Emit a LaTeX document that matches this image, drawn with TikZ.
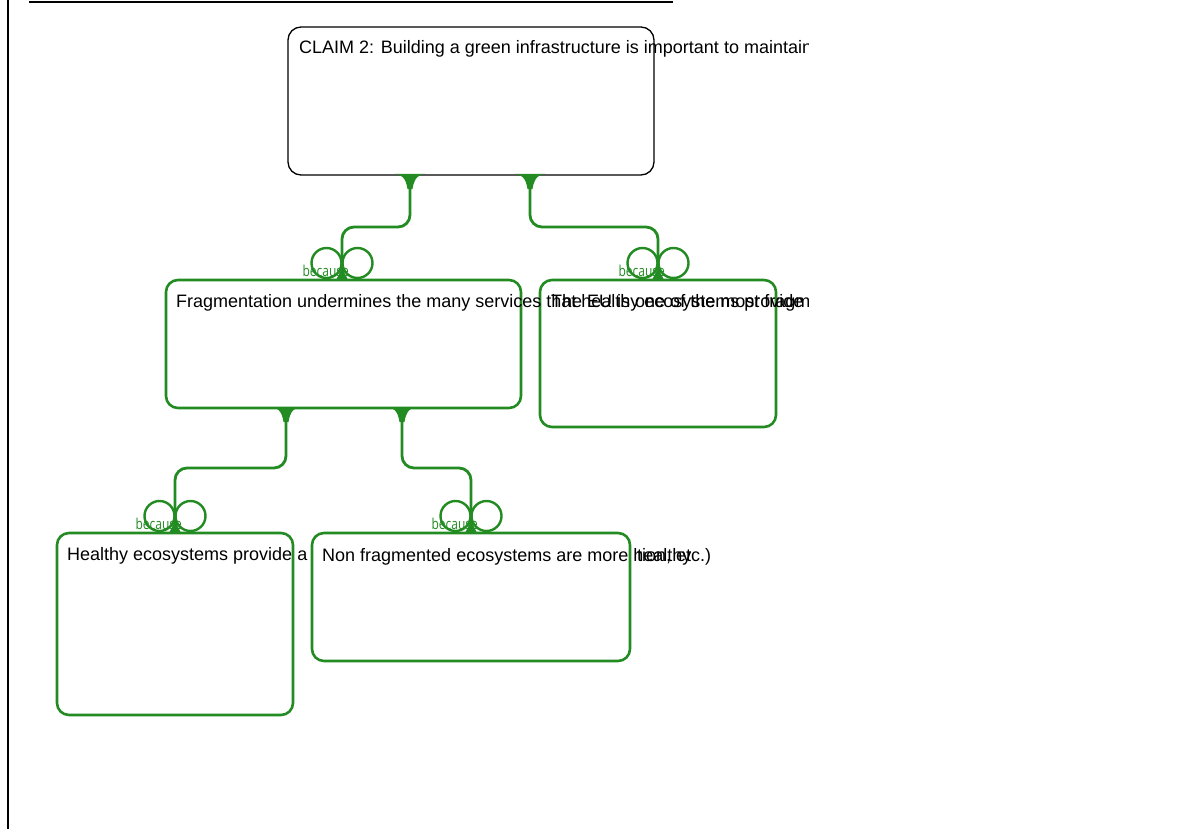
\documentclass[tikz,border=0pt]{standalone}
\usepackage{fontspec}
\setmainfont{Liberation Sans}
\newfontfamily\tagfont{Open Sans}
\usetikzlibrary{calc}
\definecolor{argue}{RGB}{34,139,34}

\tikzset{
  box/.style={anchor=north west, inner sep=0pt, outer sep=0pt, fill=white,
    rounded corners=12pt},
  claimbox/.style={box, draw=black, line width=1.3pt, rounded corners=13pt},
  reasonbox/.style={box, draw=argue, line width=2.6pt},
  txt/.style={anchor=base west, inner sep=0pt, text=black,
    font=\fontsize{18}{22}\selectfont},
  link/.style={draw=argue, line width=2.8pt, rounded corners=12pt},
  pics/flare/.style={code={
    \fill[argue] (-15,-1) .. controls (-9,-1) and (-4,3) .. (-2.5,14)
      -- (2.5,14) .. controls (4,3) and (9,-1) .. (15,-1) -- cycle;
  }},
  pics/because/.style={code={
    \draw[argue, line width=2.4pt] (-15.5,-17) circle[radius=15pt];
    \draw[argue, line width=2.4pt] (15.5,-17) circle[radius=15pt];
    \fill[argue] (-6,0) -- (0,-12) -- (6,0) -- cycle;
    \node[anchor=base east, inner sep=0pt, text=argue,
      font=\tagfont\fontsize{15}{17}\selectfont, xscale=0.8] at (7,-4) {because};
  }},
}

\begin{document}
\begin{tikzpicture}[x=1pt, y=-1pt]
\useasboundingbox (0,0) rectangle (1198,829);
\clip (0,-5) rectangle (808,829);

% page frame fragments
\draw[line width=1.5pt] (8,-5) -- (8,829);
\draw[line width=1.8pt] (29,2) -- (673,2);

% claim
\node[claimbox, minimum width=366pt, minimum height=148pt] (claim) at (288,27) {};
\node[txt] (claimtext) at (299,54) {CLAIM 2: Building a green infrastructure is important to maintain};

% first level of reasons
\node[reasonbox, minimum width=236pt, minimum height=147pt] (eu) at (540,280) {};
\node[reasonbox, minimum width=355pt, minimum height=128pt] (frag) at (166,280) {};
\node[txt] (eutext) at (551,307) {The EU is one of the most fragmented};
\node[txt] (fragtext) at (176,307) {Fragmentation undermines the many services that healthy ecosystems provide};

% second level of reasons
\node[reasonbox, minimum width=236pt, minimum height=182pt] (health) at (57,533) {};
\node[txt] (healthtext) at (67,560) {Healthy ecosystems provide a};
\node[reasonbox, minimum width=318pt, minimum height=128pt] (nonfrag) at (312,533) {};
\node[txt] (nonfragtext) at (322,561) {Non fragmented ecosystems are more healthy};
\node[txt] (healthtail) at (637,561) {tion, etc.)};

% connectors
\draw[link] ($(claim.south west)+(122,0)$) |- ($(frag.north west)+(176,-53)$)
  -- ($(frag.north west)+(176,-2)$);
\draw[link] ($(claim.south west)+(242,0)$) |- ($(eu.north west)+(118,-53)$)
  -- ($(eu.north west)+(118,-2)$);
\draw[link] ($(frag.south west)+(120,0)$) |- ($(health.north west)+(118,-65)$)
  -- ($(health.north west)+(118,-2)$);
\draw[link] ($(frag.south west)+(236,0)$) |- ($(nonfrag.north west)+(159,-65)$)
  -- ($(nonfrag.north west)+(159,-2)$);

% connector ends
\pic at ($(claim.south west)+(122,0)$) {flare};
\pic at ($(claim.south west)+(242,0)$) {flare};
\pic at ($(frag.south west)+(120,0)$) {flare};
\pic at ($(frag.south west)+(236,0)$) {flare};
\pic at ($(frag.north west)+(176,0)$) {because};
\pic at ($(eu.north west)+(118,0)$) {because};
\pic at ($(health.north west)+(118,0)$) {because};
\pic at ($(nonfrag.north west)+(159,0)$) {because};
\end{tikzpicture}
\end{document}
